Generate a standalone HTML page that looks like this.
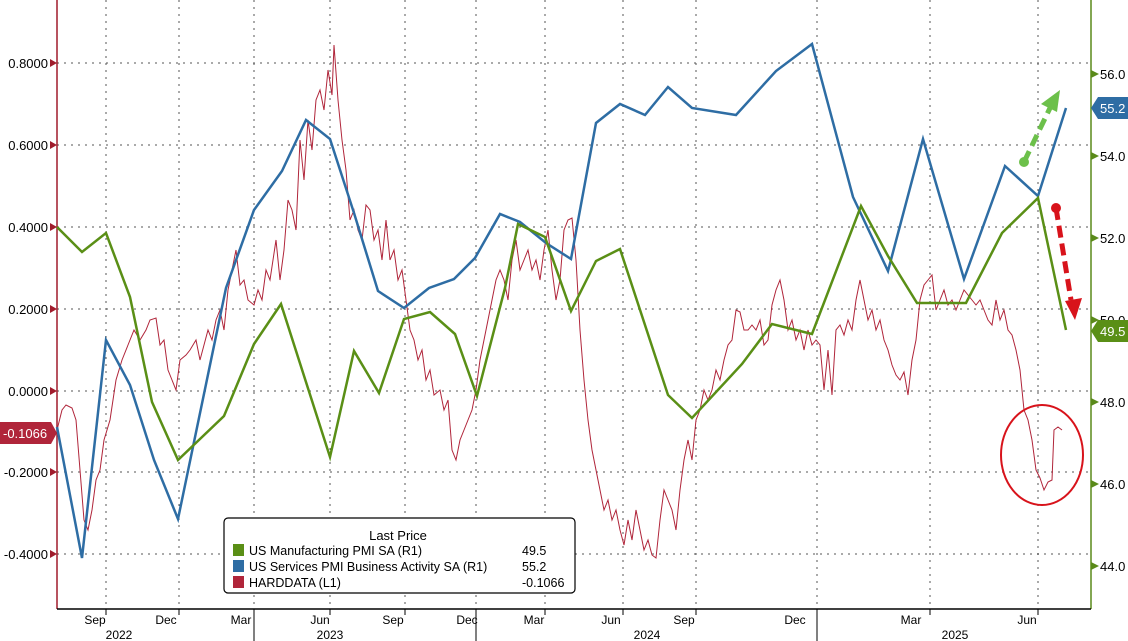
<!DOCTYPE html>
<html><head><meta charset="utf-8"><style>
body{margin:0;background:#fff;}
svg{display:block;font-family:"Liberation Sans",sans-serif;}
</style></head><body>
<svg width="1128" height="641" viewBox="0 0 1128 641">
<rect width="1128" height="641" fill="#fff"/>
<g stroke="#555" stroke-width="1" stroke-dasharray="2,5">
<line x1="57" x2="1091" y1="63" y2="63"/><line x1="57" x2="1091" y1="145" y2="145"/><line x1="57" x2="1091" y1="227" y2="227"/><line x1="57" x2="1091" y1="309" y2="309"/><line x1="57" x2="1091" y1="391" y2="391"/><line x1="57" x2="1091" y1="472" y2="472"/><line x1="57" x2="1091" y1="554" y2="554"/>
<line x1="106" x2="106" y1="0" y2="609"/><line x1="179" x2="179" y1="0" y2="609"/><line x1="254" x2="254" y1="0" y2="609"/><line x1="330" x2="330" y1="0" y2="609"/><line x1="405" x2="405" y1="0" y2="609"/><line x1="476" x2="476" y1="0" y2="609"/><line x1="545" x2="545" y1="0" y2="609"/><line x1="623" x2="623" y1="0" y2="609"/><line x1="696" x2="696" y1="0" y2="609"/><line x1="817" x2="817" y1="0" y2="609"/><line x1="930" x2="930" y1="0" y2="609"/><line x1="1038" x2="1038" y1="0" y2="609"/>
</g>
<line x1="57" y1="0" x2="57" y2="609" stroke="#a01c2c" stroke-width="1.5"/>
<line x1="1091" y1="0" x2="1091" y2="609" stroke="#5a8a1a" stroke-width="1.5"/>
<line x1="57" y1="609" x2="1091" y2="609" stroke="#000" stroke-width="1.5"/>
<g font-size="13" fill="#000" text-anchor="end">
<text x="48" y="68">0.8000</text><text x="48" y="150">0.6000</text><text x="48" y="232">0.4000</text><text x="48" y="314">0.2000</text><text x="48" y="396">0.0000</text><text x="48" y="477">-0.2000</text><text x="48" y="559">-0.4000</text>
</g>
<g fill="#a01c2c"><path d="M50,59 l7,4 l-7,4z"/><path d="M50,141 l7,4 l-7,4z"/><path d="M50,223 l7,4 l-7,4z"/><path d="M50,305 l7,4 l-7,4z"/><path d="M50,387 l7,4 l-7,4z"/><path d="M50,468 l7,4 l-7,4z"/><path d="M50,550 l7,4 l-7,4z"/></g>
<g font-size="13" fill="#000"><text x="1100" y="79">56.0</text><text x="1100" y="161">54.0</text><text x="1100" y="243">52.0</text><text x="1100" y="325">50.0</text><text x="1100" y="407">48.0</text><text x="1100" y="489">46.0</text><text x="1100" y="571">44.0</text></g>
<g fill="#5a8a1a"><path d="M1091,70 l8,4 l-8,4z"/><path d="M1091,152 l8,4 l-8,4z"/><path d="M1091,234 l8,4 l-8,4z"/><path d="M1091,316 l8,4 l-8,4z"/><path d="M1091,398 l8,4 l-8,4z"/><path d="M1091,480 l8,4 l-8,4z"/><path d="M1091,562 l8,4 l-8,4z"/></g>
<g stroke="#000" stroke-width="1"><line x1="106" x2="106" y1="609" y2="615"/><line x1="179" x2="179" y1="609" y2="615"/><line x1="254" x2="254" y1="609" y2="641"/><line x1="330" x2="330" y1="609" y2="615"/><line x1="405" x2="405" y1="609" y2="615"/><line x1="476" x2="476" y1="609" y2="641"/><line x1="545" x2="545" y1="609" y2="615"/><line x1="623" x2="623" y1="609" y2="615"/><line x1="696" x2="696" y1="609" y2="615"/><line x1="817" x2="817" y1="609" y2="641"/><line x1="930" x2="930" y1="609" y2="615"/><line x1="1038" x2="1038" y1="609" y2="615"/></g>
<g font-size="12" fill="#000" text-anchor="middle">
<text x="95" y="624">Sep</text><text x="166" y="624">Dec</text><text x="241" y="624">Mar</text><text x="320" y="624">Jun</text><text x="393" y="624">Sep</text><text x="467" y="624">Dec</text><text x="534" y="624">Mar</text><text x="611" y="624">Jun</text><text x="684" y="624">Sep</text><text x="795" y="624">Dec</text><text x="911" y="624">Mar</text><text x="1027" y="624">Jun</text>
<text x="119" y="639">2022</text><text x="330" y="639">2023</text><text x="647" y="639">2024</text><text x="955" y="639">2025</text>
</g>
<polyline fill="none" stroke="#b0253a" stroke-width="1" points="57,430 62,410 66,405 72,408 76,420 80,470 84,520 88,530 92,510 96,480 100,470 104,440 110,420 116,380 122,360 128,345 134,330 140,340 146,330 150,320 156,318 160,345 164,340 168,370 172,380 176,390 180,360 186,355 190,350 196,340 200,360 204,345 208,330 212,340 216,320 220,310 224,330 228,290 232,270 236,250 240,285 244,280 248,300 254,305 258,290 262,300 266,270 270,280 276,240 280,280 284,250 288,200 292,210 296,230 300,140 304,180 308,120 312,150 316,100 320,90 324,110 328,70 332,95 334,45 338,100 342,140 346,170 350,220 354,210 358,230 362,240 366,205 370,210 374,240 378,230 382,260 386,220 390,260 394,250 398,280 402,270 406,300 410,330 414,340 418,360 422,350 426,380 430,370 434,395 440,390 444,410 448,400 452,450 456,460 460,440 464,430 468,420 472,410 476,390 480,360 484,340 488,320 492,300 496,280 500,270 504,280 508,300 512,260 516,240 520,270 524,260 528,250 532,270 536,260 540,280 544,250 548,230 552,270 556,300 560,280 564,230 568,220 572,218 576,260 580,330 584,380 588,420 592,450 596,470 600,490 604,510 608,500 612,520 616,510 620,530 624,545 628,520 632,540 636,510 640,530 644,550 648,540 652,555 656,558 660,520 664,490 668,500 672,510 676,530 680,490 684,460 688,440 692,460 696,420 700,410 704,390 708,400 712,390 716,370 720,380 724,360 728,345 732,340 736,310 740,312 744,330 748,330 752,325 756,330 760,320 764,345 768,340 772,305 776,290 780,280 784,300 788,330 792,320 796,340 800,330 804,350 808,330 812,345 816,340 820,345 824,390 828,350 832,395 836,330 840,325 844,335 848,320 852,330 856,300 860,280 864,300 868,320 872,310 876,330 880,320 884,340 888,350 892,365 896,375 900,380 904,372 908,395 912,360 916,340 920,300 924,285 928,280 932,275 936,310 940,300 944,290 948,305 952,300 956,310 960,300 964,290 968,295 972,300 976,305 980,300 984,310 988,320 992,325 996,300 1000,320 1004,310 1008,330 1012,335 1016,350 1020,370 1024,410 1028,420 1032,440 1036,470 1040,478 1044,490 1048,482 1052,480 1054,430 1058,427 1062,430"/>
<polyline fill="none" stroke="#2e6da4" stroke-width="2.5" points="57,427 82,558 106,340 130,385 154,460 178,519 226,288 254,210 282,171 306,120 330,139 354,213 378,291 404,308 429,288 454,279 475,258 500,214 520,222 546,243 571,259 596,123 620,104 645,115 668,87 692,108 736,115 776,71 812,44 853,197 888,271 923,139 964,279 1005,166 1038,196 1066,108"/>
<polyline fill="none" stroke="#5a8f16" stroke-width="2.5" points="57,227 82,252 106,233 130,297 152,402 178,460 224,416 254,344 281,304 330,457 354,351 379,393 404,319 430,312 455,334 477,396 505,288 518,224 545,237 571,311 596,261 620,249 668,395 692,418 742,364 772,324 812,334 861,206 888,256 917,303 966,303 1002,233 1038,198 1066,330"/>
<ellipse cx="1042" cy="455" rx="41" ry="50" fill="none" stroke="#d8131b" stroke-width="2"/>
<line x1="1024" y1="162" x2="1050" y2="108" stroke="#6cc04a" stroke-width="5" stroke-dasharray="12,6"/>
<circle cx="1024" cy="162" r="5" fill="#6cc04a"/>
<path d="M1060,90 l-3,22 l-16,-8z" fill="#6cc04a"/>
<line x1="1056" y1="208" x2="1071" y2="300" stroke="#d8131b" stroke-width="5" stroke-dasharray="12,6"/>
<circle cx="1056" cy="208" r="5" fill="#d8131b"/>
<path d="M1075,320 l-10,-19 l17,-3z" fill="#d8131b"/>
<path d="M1091,108 l7,-11 h30 v22 h-30z" fill="#2e6da4"/>
<text x="1100" y="113" font-size="13" fill="#fff">55.2</text>
<path d="M1091,331 l7,-11 h30 v22 h-30z" fill="#5a8f16"/>
<text x="1100" y="336" font-size="13" fill="#fff">49.5</text>
<path d="M0,422 h51 l6,11 l-6,11 h-51z" fill="#b0253a"/>
<text x="3" y="438" font-size="13" fill="#fff">-0.1066</text>
<rect x="224" y="518" width="351" height="75" rx="4" fill="#fff" stroke="#000" stroke-width="1.2"/>
<text x="398" y="540" font-size="13" text-anchor="middle">Last Price</text>
<rect x="233" y="544" width="11" height="12" fill="#5a8f16"/>
<rect x="233" y="560" width="11" height="12" fill="#2e6da4"/>
<rect x="233" y="576" width="11" height="12" fill="#b0253a"/>
<g font-size="12.5" fill="#000">
<text x="249" y="555">US Manufacturing PMI SA  (R1)</text><text x="522" y="555">49.5</text>
<text x="249" y="571">US Services PMI Business Activity SA  (R1)</text><text x="522" y="571">55.2</text>
<text x="249" y="587">HARDDATA  (L1)</text><text x="522" y="587">-0.1066</text>
</g>
</svg>
</body></html>
